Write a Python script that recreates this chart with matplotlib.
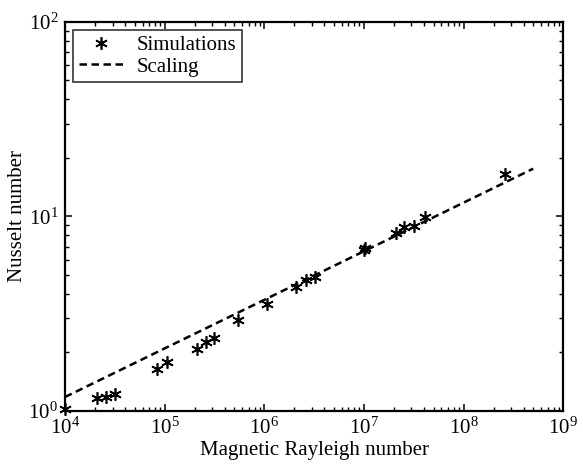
import matplotlib
matplotlib.use('Agg')
import matplotlib.pyplot as plt
from matplotlib.ticker import LogLocator

# simulation points (Ra_m, Nu)
ra_sim = [1.0e4, 2.1e4, 2.6e4, 3.2e4, 8.4e4, 1.05e5, 2.1e5, 2.6e5, 3.1e5,
          5.5e5, 1.07e6, 2.1e6, 2.6e6, 3.2e6, 1.0e7, 1.02e7, 2.1e7, 2.5e7,
          3.2e7, 4.1e7, 2.6e8]
nu_sim = [1.03, 1.17, 1.18, 1.22, 1.64, 1.79, 2.08, 2.26, 2.37,
          2.94, 3.55, 4.34, 4.71, 4.89, 6.7, 6.85, 8.2, 8.83,
          8.9, 9.94, 16.5]

# scaling line end points
ra_fit = [1.0e4, 5.0e8]
nu_fit = [1.18, 17.6]

plt.rcParams['font.family'] = ['Liberation Serif', 'DejaVu Serif']
plt.rcParams['mathtext.fontset'] = 'custom'
plt.rcParams['mathtext.rm'] = 'Liberation Serif'
plt.rcParams['mathtext.it'] = 'Liberation Serif:italic'

fig = plt.figure(figsize=(5.83, 4.66), dpi=100)
ax = fig.add_axes([0.1115, 0.118, 0.8545, 0.835])

ax.plot(ra_sim, nu_sim, linestyle='none', marker=(6, 2, 0), markersize=9,
        markeredgewidth=1.2, color='black', label='Simulations', clip_on=False)
ax.plot(ra_fit, nu_fit, linestyle='--', dashes=(3, 1.8), linewidth=1.8,
        color='black', label='Scaling')

ax.set_xscale('log')
ax.set_yscale('log')
ax.set_xlim(1e4, 1e9)
ax.set_ylim(1, 100)
ax.xaxis.set_major_locator(LogLocator(base=10, numticks=10))
ax.xaxis.set_minor_locator(LogLocator(base=10, subs=range(2, 10), numticks=20))

for s in ax.spines.values():
    s.set_linewidth(1.6)
ax.tick_params(which='both', direction='in', top=True, right=True,
               labelsize=15)
ax.tick_params(which='major', length=5, width=1.1, pad=5)
ax.tick_params(which='minor', length=3, width=1.0)

ax.set_xlabel('Magnetic Rayleigh number', fontsize=15, labelpad=1)
ax.set_ylabel('Nusselt number', fontsize=15, labelpad=1)

leg = ax.legend(loc='upper left', fontsize=15, frameon=True, fancybox=False,
                edgecolor='black', borderaxespad=0.4, handlelength=2.2,
                labelspacing=0.1, borderpad=0.25, handletextpad=0.6)
leg.get_frame().set_linewidth(1.2)

fig.savefig('out.png', dpi=100)
